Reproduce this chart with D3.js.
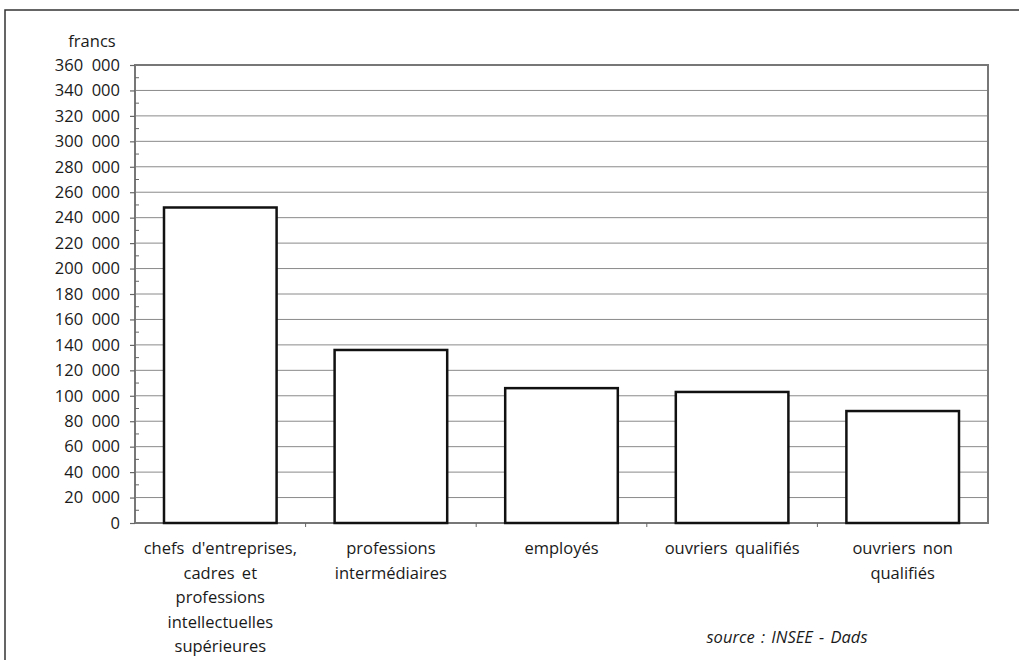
<!DOCTYPE html>
<html><head><meta charset="utf-8">
<script src="https://cdn.jsdelivr.net/npm/d3@7"></script>
<style>body{margin:0;background:#fff}svg{display:block}text{font-family:"Open Sans",sans-serif;fill:#1a1a1a}</style>
</head><body><svg id="c" width="1019" height="660"></svg>
<script>
const categories = [
  ["chefs d'entreprises,", "cadres et", "professions", "intellectuelles", "supérieures"],
  ["professions", "intermédiaires"],
  ["employés"],
  ["ouvriers qualifiés"],
  ["ouvriers non", "qualifiés"]
];
const values = [248000, 136000, 106000, 103000, 88000];
const yTicks = [0,20000,40000,60000,80000,100000,120000,140000,160000,180000,200000,220000,240000,260000,280000,300000,320000,340000,360000];
const unitLabel = "francs";
const sourceLabel = "source : INSEE - Dads";

const svg = d3.select("#c");
const L = 135, R = 988, T = 65, B = 523;
const FS = 16.5;
const ids = categories.map((c,i)=>i);
const x = d3.scaleBand().domain(ids).range([L,R]).paddingInner(0.34).paddingOuter(0.17);
const y = d3.scaleLinear().domain([0,360000]).range([B,T]);

// outer frame
svg.append("rect").attr("x",5).attr("y",10).attr("width",1040).attr("height",700)
  .attr("fill","none").attr("stroke","#333").attr("stroke-width",1.5);

// gridlines
svg.append("g").selectAll("line").data(yTicks.filter(v=>v>0&&v<360000)).join("line")
  .attr("x1",L).attr("x2",R).attr("y1",d=>y(d)).attr("y2",d=>y(d))
  .attr("stroke","#8a8a8a").attr("stroke-width",1);

// plot border
svg.append("rect").attr("x",L).attr("y",T).attr("width",R-L).attr("height",B-T)
  .attr("fill","none").attr("stroke","#777").attr("stroke-width",2);

// y axis
const fmt = v => v===0 ? "0" : (v/1000) + "\u00a0\u00a0000";
const yAxis = d3.axisLeft(y).tickValues(yTicks).tickFormat(fmt).tickSize(5).tickPadding(10);
const ga = svg.append("g").attr("transform",`translate(${L},0)`).call(yAxis);
ga.select(".domain").remove();
ga.selectAll(".tick line").attr("stroke","#666").attr("stroke-width",1.2);
ga.selectAll("text").attr("font-size",FS).attr("fill","#1a1a1a").style("font-family","'Open Sans',sans-serif");
// minor ticks
const minor = d3.range(10000,360000,20000);
svg.append("g").selectAll("line").data(minor).join("line")
  .attr("x1",L).attr("x2",L+4).attr("y1",d=>y(d)).attr("y2",d=>y(d))
  .attr("stroke","#666").attr("stroke-width",1);

// x category boundary ticks
svg.append("g").selectAll("line").data(d3.range(1,categories.length)).join("line")
  .attr("x1",d=>L+d*(R-L)/categories.length).attr("x2",d=>L+d*(R-L)/categories.length)
  .attr("y1",B).attr("y2",B+4).attr("stroke","#666").attr("stroke-width",1);

// bars
svg.append("g").selectAll("rect").data(values).join("rect")
  .attr("x",(d,i)=>x(i)).attr("width",x.bandwidth())
  .attr("y",d=>y(d)).attr("height",d=>B-y(d))
  .attr("fill","#fff").attr("stroke","#111").attr("stroke-width",2.5);

// category labels
const lab = svg.append("g");
categories.forEach((lines,i)=>{
  const t = lab.append("text").attr("text-anchor","middle").attr("font-size",FS)
    .attr("word-spacing",3)
    .attr("x",x(i)+x.bandwidth()/2).attr("y",554);
  lines.forEach((ln,j)=>t.append("tspan").attr("x",x(i)+x.bandwidth()/2).attr("dy",j?24.5:0).text(ln));
});

svg.append("text").attr("x",92).attr("y",47).attr("text-anchor","middle").attr("font-size",FS).text(unitLabel);
svg.append("text").attr("x",787).attr("y",643).attr("text-anchor","middle").attr("font-size",FS)
  .attr("font-style","italic").attr("word-spacing",2).text(sourceLabel);
</script></body></html>
